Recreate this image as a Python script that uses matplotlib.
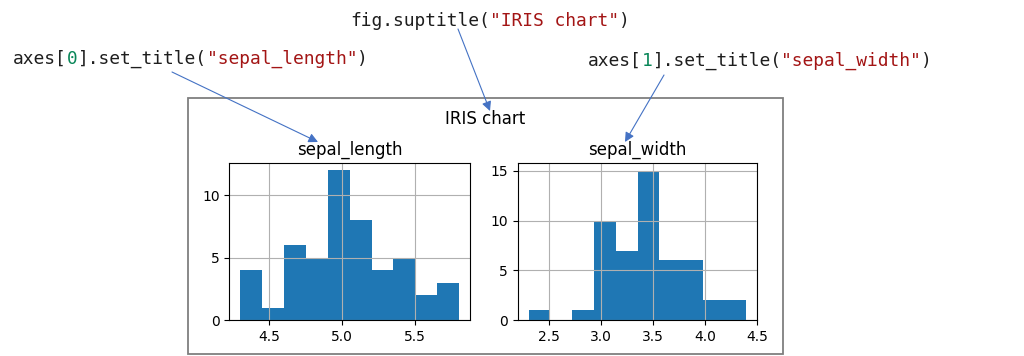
import numpy as np
import matplotlib
matplotlib.use("Agg")
import matplotlib.pyplot as plt
from matplotlib.patches import Rectangle


# =========================
# Data (iris setosa, 10 bins)
# =========================
sl_edges = [4.3, 4.45, 4.6, 4.75, 4.9, 5.05, 5.2, 5.35, 5.5, 5.65, 5.8]
sl_counts = [4, 1, 6, 5, 12, 8, 4, 5, 2, 3]

sw_edges = [2.3, 2.51, 2.72, 2.93, 3.14, 3.35, 3.56, 3.77, 3.98, 4.19, 4.4]
sw_counts = [1, 0, 1, 10, 7, 15, 6, 6, 2, 2]

titles = ["sepal_length", "sepal_width"]
suptitle = "IRIS chart"

W, H = 1024, 356
BLACK = "#1e1e1e"
STR_RED = "#a31515"
NUM_GREEN = "#098658"
ARROW_BLUE = "#4472C4"


def px_axes(fig, left, top, right, bottom):
    return fig.add_axes([left / W, 1 - bottom / H, (right - left) / W, (bottom - top) / H])


def code_line(ax, x, y, segments):
    prev = None
    for txt, col in segments:
        kw = dict(color=col, fontsize=12.9, family="DejaVu Sans Mono")
        if prev is None:
            prev = ax.text(x, y, txt, ha="left", va="center", **kw)
        else:
            prev = ax.annotate(txt, xycoords=prev, xy=(1, 0), va="bottom", ha="left", **kw)


fig = plt.figure(figsize=(W / 100, H / 100), dpi=100)

# overlay in pixel coordinates
over = fig.add_axes([0, 0, 1, 1])
over.set_xlim(0, W)
over.set_ylim(H, 0)
over.axis("off")

# figure border of the inner chart
over.add_patch(Rectangle((188, 98), 595, 256, fill=False, edgecolor="#7f7f7f", lw=1.3))

# histograms
ax1 = px_axes(fig, 229.3, 162.7, 470, 320.3)
ax2 = px_axes(fig, 517.7, 163.3, 757.3, 320.3)

for ax, edges, counts, title in zip([ax1, ax2], [sl_edges, sw_edges], [sl_counts, sw_counts], titles):
    edges = np.array(edges)
    ax.hist(edges[:-1], bins=edges, weights=counts, color="#1f77b4")
    ax.grid(True)
    ax.set_title(title)

ax1.set_xticks([4.5, 5.0, 5.5])
ax1.set_yticks([0, 5, 10])
ax2.set_xticks([2.5, 3.0, 3.5, 4.0, 4.5])
ax2.set_yticks([0, 5, 10, 15])

over.text(485.5, 119, suptitle, ha="center", va="center", fontsize=12)

# code annotations
code_line(over, 350, 21, [("fig.suptitle(", BLACK), ('"IRIS chart"', STR_RED), (")", BLACK)])
code_line(over, 13, 59, [("axes[", BLACK), ("0", NUM_GREEN), ("].set_title(", BLACK),
                         ('"sepal_length"', STR_RED), (")", BLACK)])
code_line(over, 588, 61, [("axes[", BLACK), ("1", NUM_GREEN), ("].set_title(", BLACK),
                          ('"sepal_width"', STR_RED), (")", BLACK)])

# arrows
arrow_kw = dict(arrowstyle="-|>", color=ARROW_BLUE, lw=0.8, mutation_scale=14, shrinkA=0, shrinkB=0)
over.annotate("", xy=(318, 142), xytext=(172, 72), arrowprops=arrow_kw)
over.annotate("", xy=(490, 111), xytext=(458, 29), arrowprops=arrow_kw)
over.annotate("", xy=(625, 142), xytext=(664, 75), arrowprops=arrow_kw)

fig.savefig("out.png", dpi=100)
